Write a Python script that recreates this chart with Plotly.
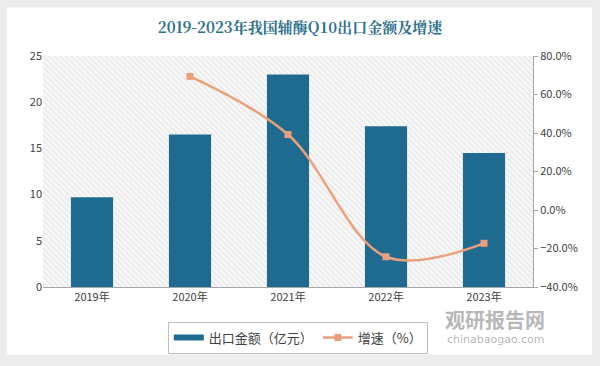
import plotly.graph_objects as go

years = ["2019年", "2020年", "2021年", "2022年", "2023年"]
export_value = [9.7, 16.5, 23.0, 17.4, 14.5]
growth_years = ["2020年", "2021年", "2022年", "2023年"]
growth_rate = [69.4, 39.2, -24.3, -17.3]

xpos = list(range(len(years)))
growth_x = [years.index(y) for y in growth_years]

BAR = "#1f6b8f"
LINE = "#eba07c"

fig = go.Figure()

# hatched plot background
fig.add_trace(go.Bar(
    x=[2], y=[25], width=[5], hoverinfo="skip", showlegend=False,
    marker=dict(color="#f8f8f8", line=dict(width=0),
                pattern=dict(shape="\\", fgcolor="#d2d2d2", bgcolor="#f8f8f8", size=4, solidity=0.3)),
))

fig.add_trace(go.Bar(
    x=xpos, y=export_value, width=0.43, name="出口金额（亿元）", showlegend=False,
    marker=dict(color=BAR, line=dict(width=0)),
))

# legend entry for bars (wide swatch)
fig.add_trace(go.Scatter(
    x=[None], y=[None], mode="lines", name="出口金额（亿元）",
    line=dict(color=BAR, width=6),
))

fig.add_trace(go.Scatter(
    x=growth_x, y=growth_rate, yaxis="y2", name="增速（%）",
    mode="lines+markers", line=dict(color=LINE, width=2.5, shape="spline"),
    marker=dict(symbol="square", size=7, color=LINE),
))

fig.update_layout(
    width=600, height=366,
    margin=dict(l=43, r=67, t=56, b=77),
    paper_bgcolor="#ececec", plot_bgcolor="white",
    barmode="overlay",
    font=dict(family="Noto Sans CJK SC, Noto Sans, sans-serif", size=11, color="#404040"),
    title=dict(text="<b>2019-2023年我国辅酶Q10出口金额及增速</b>", x=0.5, xanchor="center",
               y=1 - 28 / 366, yanchor="middle",
               font=dict(size=15, color="#2e6f8c", family="Noto Serif CJK SC, Noto Sans CJK SC, serif")),
    xaxis=dict(range=[-0.5, 4.5], tickvals=xpos, ticktext=years, showgrid=False,
               showline=True, linecolor="#a6a6a6", linewidth=1, ticks="", zeroline=False,
               tickfont=dict(size=11, color="#404040")),
    yaxis=dict(range=[0, 25], dtick=5, showgrid=False, showline=False, zeroline=False,
               ticks="", tickfont=dict(size=11, color="#404040")),
    yaxis2=dict(overlaying="y", side="right", range=[-40, 80], dtick=20,
                tickformat=".1f", ticksuffix="%", showgrid=False, zeroline=False,
                showline=True, linecolor="#a6a6a6", linewidth=1, ticks="outside",
                ticklen=4, tickcolor="#a6a6a6", tickfont=dict(size=11, color="#404040")),
    legend=dict(orientation="h", x=0.52, xanchor="center", y=-0.15, yanchor="top",
                bordercolor="#bfbfbf", borderwidth=1, bgcolor="white",
                font=dict(size=13, color="#404040"), itemwidth=30),
    shapes=[dict(type="rect", xref="paper", yref="paper", x0=-36 / 490, x1=549 / 490,
                 y0=-68 / 233, y1=282 / 233, fillcolor="white", line=dict(width=0), layer="below")],
    annotations=[
        dict(text="<b>观研报告网</b>", xref="paper", yref="paper", x=(547 - 43) / 490,
             y=(289 - 322) / 233, xanchor="right", yanchor="middle", showarrow=False,
             font=dict(size=20, color="rgba(120,120,120,0.55)")),
        dict(text="chinabaogao.com", xref="paper", yref="paper", x=(547 - 43) / 490,
             y=(289 - 342) / 233, xanchor="right", yanchor="middle", showarrow=False,
             font=dict(size=11, color="rgba(120,120,120,0.55)", family="DejaVu Sans")),
    ],
)

fig.write_html("out.html", config={"displayModeBar": False},
               post_script="document.body.style.margin='0';")
